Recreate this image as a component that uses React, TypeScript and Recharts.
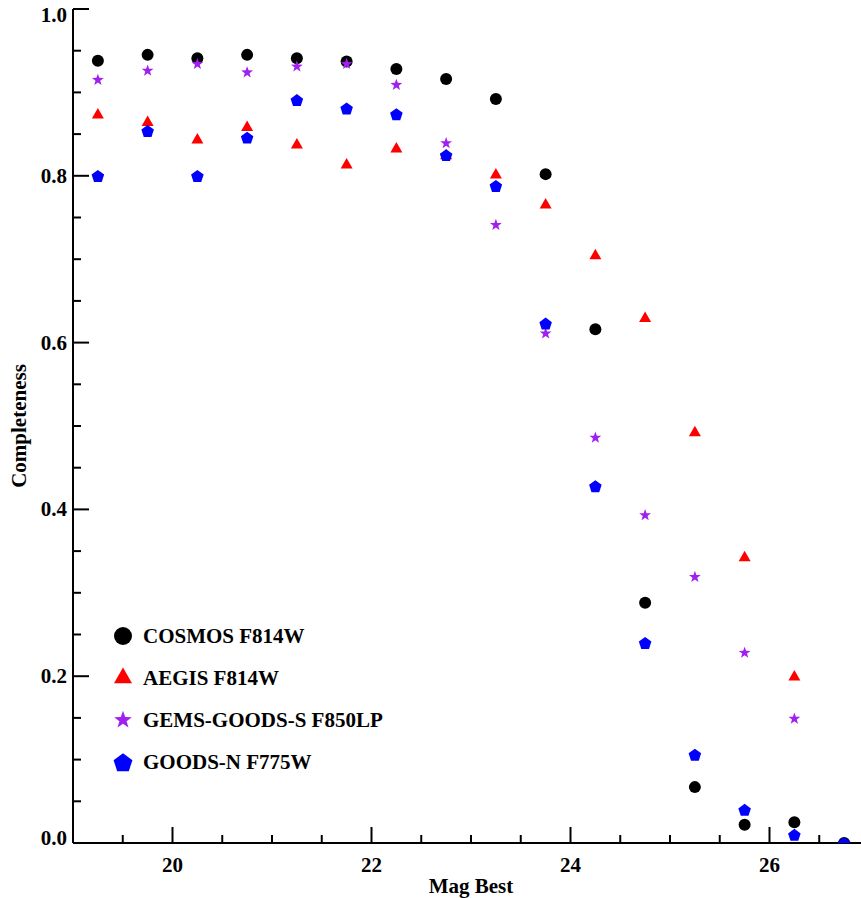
import React from "react"
import { ScatterChart, Scatter, XAxis, YAxis, Legend } from "recharts"

// magnitude bin centres
const mags = [19.25, 19.75, 20.25, 20.75, 21.25, 21.75, 22.25, 22.75, 23.25, 23.75, 24.25, 24.75, 25.25, 25.75, 26.25, 26.75]

const cosmos = [0.938, 0.945, 0.941, 0.945, 0.941, 0.937, 0.928, 0.916, 0.892, 0.802, 0.616, 0.288, 0.067, 0.022, 0.025, 0.0]
const aegis = [0.873, 0.864, 0.843, 0.858, 0.837, 0.813, 0.832, 0.824, 0.801, 0.765, 0.704, 0.629, 0.492, 0.342, 0.199, null]
const gems = [0.915, 0.926, 0.934, 0.924, 0.931, 0.934, 0.909, 0.839, 0.741, 0.611, 0.486, 0.393, 0.319, 0.228, 0.149, null]
const goodsN = [0.8, 0.854, 0.8, 0.846, 0.891, 0.881, 0.874, 0.825, 0.788, 0.623, 0.428, 0.24, 0.106, 0.04, 0.01, 0.0]

const xTicks = [19.5, 20, 20.5, 21, 21.5, 22, 22.5, 23, 23.5, 24, 24.5, 25, 25.5, 26, 26.5]
const yTicks = [0, 0.05, 0.1, 0.15, 0.2, 0.25, 0.3, 0.35, 0.4, 0.45, 0.5, 0.55, 0.6, 0.65, 0.7, 0.75, 0.8, 0.85, 0.9, 0.95, 1.0]

const FONT = "'Liberation Serif', 'Times New Roman', serif"
// keep recharts from pushing the tick position outward
const TS = 0.001

const toPoints = (vals: (number | null)[]) =>
  mags.map((m, i) => ({ x: m, y: vals[i] })).filter(p => p.y !== null)

// marker shapes
const circle = (cx: number, cy: number, s: number, fill: string) => (
  <circle cx={cx} cy={cy} r={6 * s} fill={fill} />
)
const triangle = (cx: number, cy: number, s: number, fill: string) => {
  const w = 6 * s, h = 10.5 * s
  return <polygon points={`${cx - w},${cy + h / 3} ${cx + w},${cy + h / 3} ${cx},${cy - (2 * h) / 3}`} fill={fill} />
}
const star = (cx: number, cy: number, s: number, fill: string) => {
  const pts: string[] = []
  for (let i = 0; i < 10; i++) {
    const r = (i % 2 === 0 ? 6.2 : 2.5) * s
    const a = -Math.PI / 2 + (i * Math.PI) / 5
    pts.push(`${cx + r * Math.cos(a)},${cy + r * Math.sin(a)}`)
  }
  return <polygon points={pts.join(" ")} fill={fill} />
}
const pentagon = (cx: number, cy: number, s: number, fill: string) => {
  const pts: string[] = []
  for (let i = 0; i < 5; i++) {
    const r = 6.6 * s
    const a = -Math.PI / 2 + (i * 2 * Math.PI) / 5
    pts.push(`${cx + r * Math.cos(a)},${cy + 0.8 * s + r * Math.sin(a)}`)
  }
  return <polygon points={pts.join(" ")} fill={fill} />
}

const series = [
  { name: "COSMOS F814W", data: cosmos, color: "#000000", draw: circle },
  { name: "AEGIS F814W", data: aegis, color: "#ff0000", draw: triangle },
  { name: "GEMS-GOODS-S F850LP", data: gems, color: "#a020f0", draw: star },
  { name: "GOODS-N F775W", data: goodsN, color: "#0000ff", draw: pentagon }
]

const isMajorX = (v: number) => v % 2 === 0
const isMajorY = (v: number) => Math.round(v * 100) % 20 === 0

const BottomTick = (props: any) => {
  const { x, y, payload } = props
  const major = isMajorX(payload.value)
  return (
    <g>
      <line x1={x} x2={x} y1={y} y2={y - (major ? 16 : 8)} stroke="#000" strokeWidth={2} />
      {major && (
        <text x={x} y={y + 29} textAnchor="middle" fontFamily={FONT} fontWeight="bold" fontSize={21} fill="#000">
          {payload.value}
        </text>
      )}
    </g>
  )
}

const TopTick = (props: any) => {
  const { x, y, payload } = props
  const major = isMajorX(payload.value)
  return <line x1={x} x2={x} y1={y} y2={y + (major ? 16 : 8)} stroke="#000" strokeWidth={2} />
}

const LeftTick = (props: any) => {
  const { x, y, payload } = props
  const v = payload.value
  const major = isMajorY(v)
  const dy = v === 1 ? 6 : v === 0 ? -5 : 0
  return (
    <g>
      <line x1={x} x2={x + (major ? 16 : 8)} y1={y} y2={y} stroke="#000" strokeWidth={2} />
      {major && (
        <text x={x - 6} y={y + dy + 7} textAnchor="end" fontFamily={FONT} fontWeight="bold" fontSize={21} fill="#000">
          {v.toFixed(1)}
        </text>
      )}
    </g>
  )
}

const RightTick = (props: any) => {
  const { x, y, payload } = props
  const major = isMajorY(payload.value)
  return <line x1={x} x2={x - (major ? 16 : 8)} y1={y} y2={y} stroke="#000" strokeWidth={2} />
}

const LegendBox = () => (
  <svg width={340} height={170}>
    {series.map((s, i) => (
      <g key={s.name}>
        {s.draw(11, 16 + i * 42, 1.5, s.color)}
        <text x={31} y={23 + i * 42} fontFamily={FONT} fontWeight="bold" fontSize={21} fill="#000">
          {s.name}
        </text>
      </g>
    ))}
  </svg>
)

export default function App() {
  return (
    <div style={{ position: "absolute", left: 0, top: 0, width: 861, height: 898, overflow: "hidden", background: "#fff" }}>
      <ScatterChart width={870} height={898} margin={{ top: 9, right: 1, bottom: 0, left: 0 }}>
        <XAxis
          xAxisId="b"
          dataKey="x"
          type="number"
          domain={[19, 27]}
          allowDataOverflow
          ticks={xTicks}
          interval={0}
          height={55}
          tickSize={TS}
          tickMargin={TS}
          tick={BottomTick}
          axisLine={{ stroke: "#000", strokeWidth: 2 }}
          label={(p: any) => {
            const vb = p.viewBox
            return (
              <text x={vb.x + vb.width / 2} y={vb.y + 50} textAnchor="middle" fontFamily={FONT} fontWeight="bold" fontSize={21} fill="#000">
                Mag Best
              </text>
            )
          }}
        />
        <XAxis
          xAxisId="t"
          orientation="top"
          type="number"
          domain={[19, 27]}
          allowDataOverflow
          ticks={xTicks}
          interval={0}
          height={0}
          tickSize={TS}
          tickMargin={TS}
          tick={TopTick}
          axisLine={{ stroke: "#000", strokeWidth: 2 }}
        />
        <YAxis
          yAxisId="l"
          dataKey="y"
          type="number"
          domain={[0, 1]}
          allowDataOverflow
          ticks={yTicks}
          interval={0}
          width={73}
          tickSize={TS}
          tickMargin={TS}
          tick={LeftTick}
          axisLine={{ stroke: "#000", strokeWidth: 2 }}
          label={(p: any) => {
            const vb = p.viewBox
            const cy = vb.y + vb.height / 2
            return (
              <text x={26} y={cy} transform={`rotate(-90 26 ${cy})`} textAnchor="middle" fontFamily={FONT} fontWeight="bold" fontSize={21} fill="#000">
                Completeness
              </text>
            )
          }}
        />
        <YAxis
          yAxisId="r"
          orientation="right"
          type="number"
          domain={[0, 1]}
          allowDataOverflow
          ticks={yTicks}
          interval={0}
          width={0}
          tickSize={TS}
          tickMargin={TS}
          tick={RightTick}
          axisLine={{ stroke: "#000", strokeWidth: 2 }}
        />
        <Legend
          layout="vertical"
          align="center"
          verticalAlign="middle"
          content={LegendBox}
          wrapperStyle={{ left: 112, top: 620, width: 340, height: 170 }}
        />
        {series.map(s => (
          <Scatter
            key={s.name}
            name={s.name}
            xAxisId="b"
            yAxisId="l"
            data={toPoints(s.data)}
            fill={s.color}
            isAnimationActive={false}
            shape={(p: any) => s.draw(p.cx, p.cy, 1, s.color)}
          />
        ))}
      </ScatterChart>
    </div>
  )
}
